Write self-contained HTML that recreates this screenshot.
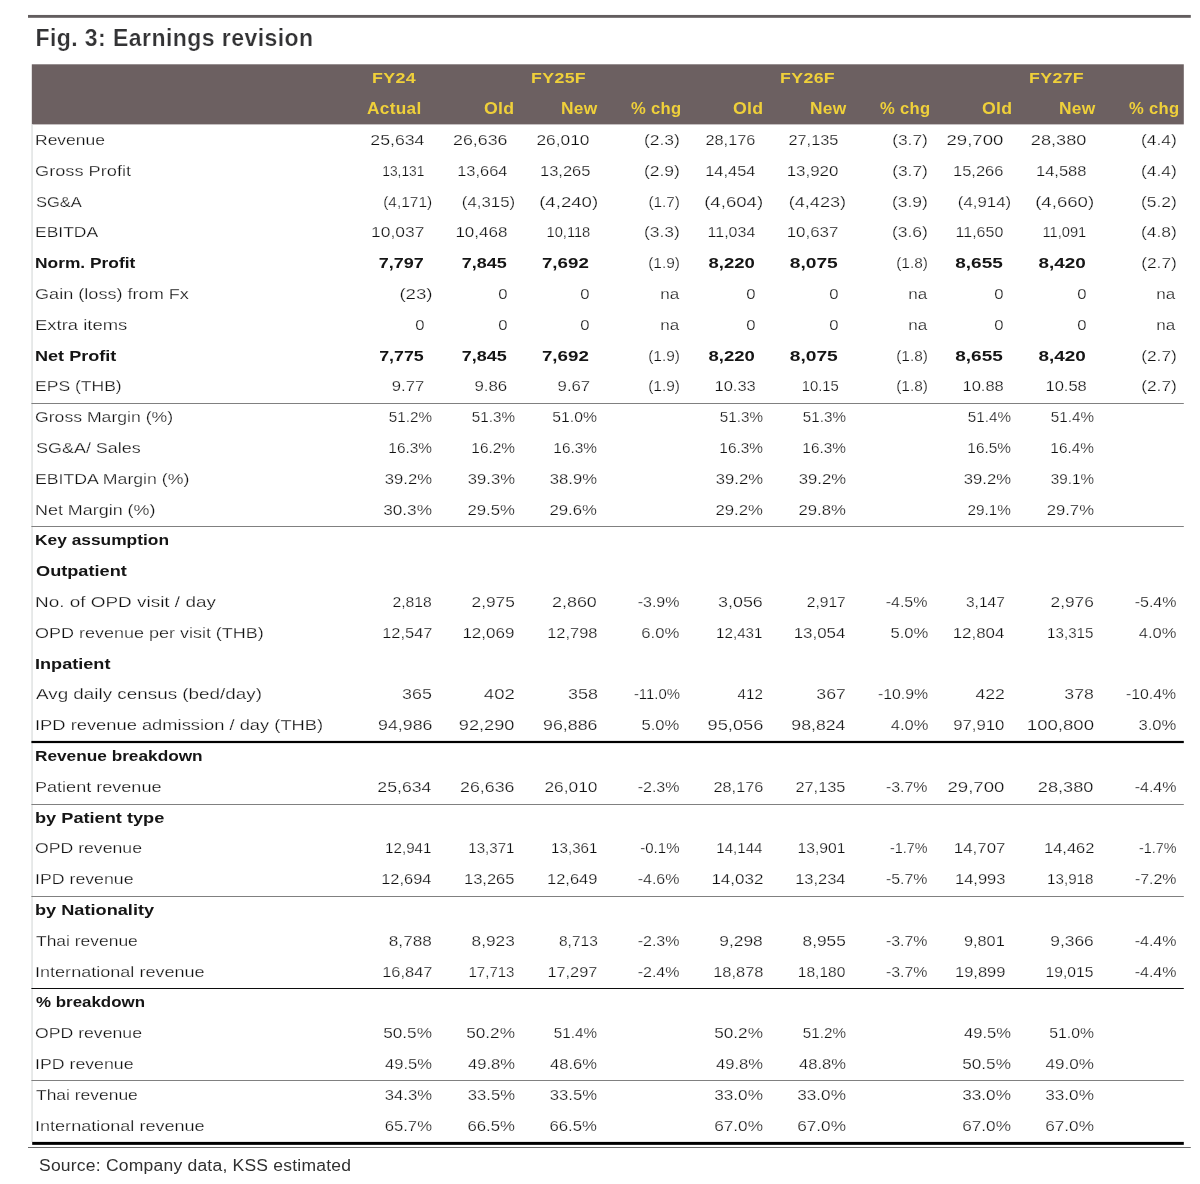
<!DOCTYPE html>
<html lang="en"><head><meta charset="utf-8"><title>Fig. 3: Earnings revision</title>
<style>
html,body{margin:0;padding:0;background:#fff}
body{width:1200px;height:1184px;position:relative;overflow:hidden;font-family:"Liberation Sans",sans-serif;color:#101010}
.t{position:absolute;white-space:nowrap;font-size:15.5px;line-height:20px;-webkit-text-stroke:.25px #fff}
.l{left:34.5px;transform-origin:0 50%}
.b{font-weight:bold;color:#151515;-webkit-text-stroke:0}
.r{text-align:right;transform-origin:100% 50%}
.h{position:absolute;white-space:nowrap;font-weight:bold;color:#efd03a;font-size:16px;line-height:20px;letter-spacing:.3px;transform-origin:0 50%}
</style></head>
<body>
<svg width="1200" height="1184" viewBox="0 0 1200 1184" style="position:absolute;left:0;top:0"><rect x="28" y="14.95" width="1162.8" height="2.85" fill="#625d5e"/><rect x="31.8" y="64.3" width="1152.0" height="60.1" fill="#6c6061"/><rect x="31.3" y="124.4" width="1.5" height="1017.6" fill="#e0e3e3"/><rect x="31.4" y="403" width="1152.4" height="1" fill="#808080"/><rect x="31.4" y="526" width="1152.4" height="1" fill="#808080"/><rect x="31.4" y="804" width="1152.4" height="1" fill="#808080"/><rect x="31.4" y="896" width="1152.4" height="1" fill="#808080"/><rect x="31.4" y="988" width="1152.4" height="1" fill="#0c0c0c"/><rect x="31.4" y="1080" width="1152.4" height="1" fill="#808080"/><rect x="31.4" y="740.9" width="1152.4" height="2.2" fill="#000"/><rect x="32.2" y="1141.9" width="1151.6" height="2.95" fill="#000"/><rect x="28" y="1147" width="1162.8" height="1" fill="#6a6a6a"/></svg>
<div id="title" style="position:absolute;left:35.4px;top:23.6px;font-size:23px;line-height:28px;font-weight:bold;color:#333335;letter-spacing:.44px;-webkit-text-stroke:.22px #fff;white-space:nowrap">Fig. 3: Earnings revision</div>
<span class="h" style="top:67.7px;left:371.8px;transform:scaleX(1.19);font-size:15px">FY24</span>
<span class="h" style="top:98.7px;left:367.0px;transform:scaleX(1.077)">Actual</span>
<span class="h" style="top:67.7px;left:531.3px;transform:scaleX(1.184);font-size:15px">FY25F</span>
<span class="h" style="top:98.7px;left:484.4px;transform:scaleX(1.107)">Old</span>
<span class="h" style="top:98.7px;left:561.4px;transform:scaleX(1.085)">New</span>
<span class="h" style="top:98.7px;left:630.7px;transform:scaleX(1.037)">% chg</span>
<span class="h" style="top:67.7px;left:780.2px;transform:scaleX(1.184);font-size:15px">FY26F</span>
<span class="h" style="top:98.7px;left:733.3px;transform:scaleX(1.107)">Old</span>
<span class="h" style="top:98.7px;left:810.3px;transform:scaleX(1.085)">New</span>
<span class="h" style="top:98.7px;left:879.6px;transform:scaleX(1.037)">% chg</span>
<span class="h" style="top:67.7px;left:1029.1px;transform:scaleX(1.184);font-size:15px">FY27F</span>
<span class="h" style="top:98.7px;left:982.2px;transform:scaleX(1.107)">Old</span>
<span class="h" style="top:98.7px;left:1059.2px;transform:scaleX(1.085)">New</span>
<span class="h" style="top:98.7px;left:1128.5px;transform:scaleX(1.037)">% chg</span>
<span class="t l" style="top:130.0px;left:34.83px;transform:scaleX(1.128)">Revenue</span>
<span class="t r" style="top:130.0px;right:775.61px;transform:scaleX(1.140)">25,634</span>
<span class="t r" style="top:130.0px;right:692.58px;transform:scaleX(1.146)">26,636</span>
<span class="t r" style="top:130.0px;right:610.12px;transform:scaleX(1.118)">26,010</span>
<span class="t r" style="top:130.0px;right:520.00px;transform:scaleX(1.126)">(2.3)</span>
<span class="t r" style="top:130.0px;right:444.39px;transform:scaleX(1.054)">28,176</span>
<span class="t r" style="top:130.0px;right:361.64px;transform:scaleX(1.054)">27,135</span>
<span class="t r" style="top:130.0px;right:271.75px;transform:scaleX(1.120)">(3.7)</span>
<span class="t r" style="top:130.0px;right:196.34px;transform:scaleX(1.200)">29,700</span>
<span class="t r" style="top:130.0px;right:113.60px;transform:scaleX(1.172)">28,380</span>
<span class="t r" style="top:130.0px;right:23.50px;transform:scaleX(1.126)">(4.4)</span>
<span class="t l" style="top:160.8px;left:35.35px;transform:scaleX(1.174)">Gross Profit</span>
<span class="t r" style="top:160.8px;right:775.49px;transform:scaleX(0.889)">13,131</span>
<span class="t r" style="top:160.8px;right:692.89px;transform:scaleX(1.059)">13,664</span>
<span class="t r" style="top:160.8px;right:609.88px;transform:scaleX(1.064)">13,265</span>
<span class="t r" style="top:160.8px;right:520.00px;transform:scaleX(1.126)">(2.9)</span>
<span class="t r" style="top:160.8px;right:444.64px;transform:scaleX(1.059)">14,454</span>
<span class="t r" style="top:160.8px;right:361.88px;transform:scaleX(1.091)">13,920</span>
<span class="t r" style="top:160.8px;right:271.75px;transform:scaleX(1.120)">(3.7)</span>
<span class="t r" style="top:160.8px;right:196.13px;transform:scaleX(1.064)">15,266</span>
<span class="t r" style="top:160.8px;right:113.38px;transform:scaleX(1.064)">14,588</span>
<span class="t r" style="top:160.8px;right:23.50px;transform:scaleX(1.126)">(4.4)</span>
<span class="t l" style="top:191.6px;left:35.68px;transform:scaleX(1.064)">SG&amp;A</span>
<span class="t r" style="top:191.6px;right:767.95px;transform:scaleX(0.996)">(4,171)</span>
<span class="t r" style="top:191.6px;right:685.13px;transform:scaleX(1.084)">(4,315)</span>
<span class="t r" style="top:191.6px;right:602.29px;transform:scaleX(1.200)">(4,240)</span>
<span class="t r" style="top:191.6px;right:520.11px;transform:scaleX(0.988)">(1.7)</span>
<span class="t r" style="top:191.6px;right:436.79px;transform:scaleX(1.200)">(4,604)</span>
<span class="t r" style="top:191.6px;right:354.06px;transform:scaleX(1.169)">(4,423)</span>
<span class="t r" style="top:191.6px;right:271.75px;transform:scaleX(1.126)">(3.9)</span>
<span class="t r" style="top:191.6px;right:188.63px;transform:scaleX(1.084)">(4,914)</span>
<span class="t r" style="top:191.6px;right:105.79px;transform:scaleX(1.200)">(4,660)</span>
<span class="t r" style="top:191.6px;right:23.50px;transform:scaleX(1.126)">(5.2)</span>
<span class="t l" style="top:222.4px;left:34.84px;transform:scaleX(1.127)">EBITDA</span>
<span class="t r" style="top:222.4px;right:775.34px;transform:scaleX(1.125)">10,037</span>
<span class="t r" style="top:222.4px;right:692.61px;transform:scaleX(1.097)">10,468</span>
<span class="t r" style="top:222.4px;right:609.96px;transform:scaleX(0.946)">10,118</span>
<span class="t r" style="top:222.4px;right:520.00px;transform:scaleX(1.126)">(3.3)</span>
<span class="t r" style="top:222.4px;right:444.65px;transform:scaleX(1.030)">11,034</span>
<span class="t r" style="top:222.4px;right:361.61px;transform:scaleX(1.092)">10,637</span>
<span class="t r" style="top:222.4px;right:271.75px;transform:scaleX(1.126)">(3.6)</span>
<span class="t r" style="top:222.4px;right:196.40px;transform:scaleX(1.030)">11,650</span>
<span class="t r" style="top:222.4px;right:113.46px;transform:scaleX(0.946)">11,091</span>
<span class="t r" style="top:222.4px;right:23.50px;transform:scaleX(1.126)">(4.8)</span>
<span class="t l b" style="top:253.2px;left:35.12px;transform:scaleX(1.120)">Norm. Profit</span>
<span class="t r b" style="top:253.2px;right:776.02px;transform:scaleX(1.161)">7,797</span>
<span class="t r b" style="top:253.2px;right:693.55px;transform:scaleX(1.160)">7,845</span>
<span class="t r b" style="top:253.2px;right:610.78px;transform:scaleX(1.207)">7,692</span>
<span class="t r" style="top:253.2px;right:520.10px;transform:scaleX(0.994)">(1.9)</span>
<span class="t r b" style="top:253.2px;right:445.00px;transform:scaleX(1.194)">8,220</span>
<span class="t r b" style="top:253.2px;right:362.52px;transform:scaleX(1.240)">8,075</span>
<span class="t r" style="top:253.2px;right:271.85px;transform:scaleX(0.994)">(1.8)</span>
<span class="t r b" style="top:253.2px;right:197.03px;transform:scaleX(1.226)">8,655</span>
<span class="t r b" style="top:253.2px;right:113.98px;transform:scaleX(1.221)">8,420</span>
<span class="t r" style="top:253.2px;right:23.50px;transform:scaleX(1.120)">(2.7)</span>
<span class="t l" style="top:284.0px;left:35.35px;transform:scaleX(1.168)">Gain (loss) from Fx</span>
<span class="t r" style="top:284.0px;right:767.78px;transform:scaleX(1.203)">(23)</span>
<span class="t r" style="top:284.0px;right:692.88px;transform:scaleX(1.079)">0</span>
<span class="t r" style="top:284.0px;right:610.13px;transform:scaleX(1.079)">0</span>
<span class="t r" style="top:284.0px;right:521.01px;transform:scaleX(1.100)">na</span>
<span class="t r" style="top:284.0px;right:444.63px;transform:scaleX(1.079)">0</span>
<span class="t r" style="top:284.0px;right:361.88px;transform:scaleX(1.079)">0</span>
<span class="t r" style="top:284.0px;right:272.76px;transform:scaleX(1.100)">na</span>
<span class="t r" style="top:284.0px;right:196.38px;transform:scaleX(1.079)">0</span>
<span class="t r" style="top:284.0px;right:113.63px;transform:scaleX(1.079)">0</span>
<span class="t r" style="top:284.0px;right:24.51px;transform:scaleX(1.100)">na</span>
<span class="t l" style="top:314.8px;left:34.76px;transform:scaleX(1.190)">Extra items</span>
<span class="t r" style="top:314.8px;right:775.63px;transform:scaleX(1.079)">0</span>
<span class="t r" style="top:314.8px;right:692.88px;transform:scaleX(1.079)">0</span>
<span class="t r" style="top:314.8px;right:610.13px;transform:scaleX(1.079)">0</span>
<span class="t r" style="top:314.8px;right:521.01px;transform:scaleX(1.100)">na</span>
<span class="t r" style="top:314.8px;right:444.63px;transform:scaleX(1.079)">0</span>
<span class="t r" style="top:314.8px;right:361.88px;transform:scaleX(1.079)">0</span>
<span class="t r" style="top:314.8px;right:272.76px;transform:scaleX(1.100)">na</span>
<span class="t r" style="top:314.8px;right:196.38px;transform:scaleX(1.079)">0</span>
<span class="t r" style="top:314.8px;right:113.63px;transform:scaleX(1.079)">0</span>
<span class="t r" style="top:314.8px;right:24.51px;transform:scaleX(1.100)">na</span>
<span class="t l b" style="top:345.6px;left:35.07px;transform:scaleX(1.166)">Net Profit</span>
<span class="t r b" style="top:345.6px;right:776.31px;transform:scaleX(1.150)">7,775</span>
<span class="t r b" style="top:345.6px;right:693.55px;transform:scaleX(1.160)">7,845</span>
<span class="t r b" style="top:345.6px;right:610.78px;transform:scaleX(1.207)">7,692</span>
<span class="t r" style="top:345.6px;right:520.10px;transform:scaleX(0.994)">(1.9)</span>
<span class="t r b" style="top:345.6px;right:445.00px;transform:scaleX(1.194)">8,220</span>
<span class="t r b" style="top:345.6px;right:362.52px;transform:scaleX(1.240)">8,075</span>
<span class="t r" style="top:345.6px;right:271.85px;transform:scaleX(0.994)">(1.8)</span>
<span class="t r b" style="top:345.6px;right:197.03px;transform:scaleX(1.226)">8,655</span>
<span class="t r b" style="top:345.6px;right:113.98px;transform:scaleX(1.221)">8,420</span>
<span class="t r" style="top:345.6px;right:23.50px;transform:scaleX(1.120)">(2.7)</span>
<span class="t l" style="top:376.4px;left:34.83px;transform:scaleX(1.131)">EPS (THB)</span>
<span class="t r" style="top:376.4px;right:775.38px;transform:scaleX(1.073)">9.77</span>
<span class="t r" style="top:376.4px;right:692.62px;transform:scaleX(1.087)">9.86</span>
<span class="t r" style="top:376.4px;right:609.87px;transform:scaleX(1.080)">9.67</span>
<span class="t r" style="top:376.4px;right:520.10px;transform:scaleX(0.994)">(1.9)</span>
<span class="t r" style="top:376.4px;right:444.38px;transform:scaleX(1.066)">10.33</span>
<span class="t r" style="top:376.4px;right:361.70px;transform:scaleX(0.958)">10.15</span>
<span class="t r" style="top:376.4px;right:271.85px;transform:scaleX(0.994)">(1.8)</span>
<span class="t r" style="top:376.4px;right:196.13px;transform:scaleX(1.066)">10.88</span>
<span class="t r" style="top:376.4px;right:113.38px;transform:scaleX(1.066)">10.58</span>
<span class="t r" style="top:376.4px;right:23.50px;transform:scaleX(1.120)">(2.7)</span>
<span class="t l" style="top:407.2px;left:35.37px;transform:scaleX(1.137)">Gross Margin (%)</span>
<span class="t r" style="top:407.2px;right:768.30px;transform:scaleX(0.981)">51.2%</span>
<span class="t r" style="top:407.2px;right:685.55px;transform:scaleX(0.981)">51.3%</span>
<span class="t r" style="top:407.2px;right:602.78px;transform:scaleX(1.016)">51.0%</span>
<span class="t r" style="top:407.2px;right:437.30px;transform:scaleX(0.981)">51.3%</span>
<span class="t r" style="top:407.2px;right:354.55px;transform:scaleX(0.981)">51.3%</span>
<span class="t r" style="top:407.2px;right:189.05px;transform:scaleX(0.981)">51.4%</span>
<span class="t r" style="top:407.2px;right:106.30px;transform:scaleX(0.981)">51.4%</span>
<span class="t l" style="top:438.0px;left:35.64px;transform:scaleX(1.158)">SG&amp;A/ Sales</span>
<span class="t r" style="top:438.0px;right:768.29px;transform:scaleX(0.992)">16.3%</span>
<span class="t r" style="top:438.0px;right:685.54px;transform:scaleX(0.992)">16.2%</span>
<span class="t r" style="top:438.0px;right:602.79px;transform:scaleX(0.992)">16.3%</span>
<span class="t r" style="top:438.0px;right:437.29px;transform:scaleX(0.992)">16.3%</span>
<span class="t r" style="top:438.0px;right:354.54px;transform:scaleX(0.992)">16.3%</span>
<span class="t r" style="top:438.0px;right:189.04px;transform:scaleX(0.992)">16.5%</span>
<span class="t r" style="top:438.0px;right:106.29px;transform:scaleX(0.992)">16.4%</span>
<span class="t l" style="top:468.8px;left:34.82px;transform:scaleX(1.141)">EBITDA Margin (%)</span>
<span class="t r" style="top:468.8px;right:768.25px;transform:scaleX(1.074)">39.2%</span>
<span class="t r" style="top:468.8px;right:685.50px;transform:scaleX(1.074)">39.3%</span>
<span class="t r" style="top:468.8px;right:602.75px;transform:scaleX(1.074)">38.9%</span>
<span class="t r" style="top:468.8px;right:437.25px;transform:scaleX(1.074)">39.2%</span>
<span class="t r" style="top:468.8px;right:354.50px;transform:scaleX(1.074)">39.2%</span>
<span class="t r" style="top:468.8px;right:189.00px;transform:scaleX(1.074)">39.2%</span>
<span class="t r" style="top:468.8px;right:106.30px;transform:scaleX(0.981)">39.1%</span>
<span class="t l" style="top:499.6px;left:34.80px;transform:scaleX(1.156)">Net Margin (%)</span>
<span class="t r" style="top:499.6px;right:768.24px;transform:scaleX(1.109)">30.3%</span>
<span class="t r" style="top:499.6px;right:685.50px;transform:scaleX(1.080)">29.5%</span>
<span class="t r" style="top:499.6px;right:602.75px;transform:scaleX(1.080)">29.6%</span>
<span class="t r" style="top:499.6px;right:437.25px;transform:scaleX(1.080)">29.2%</span>
<span class="t r" style="top:499.6px;right:354.50px;transform:scaleX(1.080)">29.8%</span>
<span class="t r" style="top:499.6px;right:189.04px;transform:scaleX(0.987)">29.1%</span>
<span class="t r" style="top:499.6px;right:106.25px;transform:scaleX(1.075)">29.7%</span>
<span class="t l b" style="top:530.4px;left:35.12px;transform:scaleX(1.119)">Key assumption</span>
<span class="t l b" style="top:561.2px;left:35.63px;transform:scaleX(1.172)">Outpatient</span>
<span class="t l" style="top:592.0px;left:34.72px;transform:scaleX(1.221)">No. of OPD visit / day</span>
<span class="t r" style="top:592.0px;right:768.11px;transform:scaleX(1.014)">2,818</span>
<span class="t r" style="top:592.0px;right:685.30px;transform:scaleX(1.115)">2,975</span>
<span class="t r" style="top:592.0px;right:602.80px;transform:scaleX(1.153)">2,860</span>
<span class="t r" style="top:592.0px;right:520.42px;transform:scaleX(1.033)">-3.9%</span>
<span class="t r" style="top:592.0px;right:437.03px;transform:scaleX(1.153)">3,056</span>
<span class="t r" style="top:592.0px;right:354.37px;transform:scaleX(1.008)">2,917</span>
<span class="t r" style="top:592.0px;right:272.17px;transform:scaleX(1.033)">-4.5%</span>
<span class="t r" style="top:592.0px;right:195.07px;transform:scaleX(1.001)">3,147</span>
<span class="t r" style="top:592.0px;right:106.05px;transform:scaleX(1.115)">2,976</span>
<span class="t r" style="top:592.0px;right:23.92px;transform:scaleX(1.033)">-5.4%</span>
<span class="t l" style="top:622.8px;left:35.36px;transform:scaleX(1.160)">OPD revenue per visit (THB)</span>
<span class="t r" style="top:622.8px;right:768.08px;transform:scaleX(1.060)">12,547</span>
<span class="t r" style="top:622.8px;right:685.31px;transform:scaleX(1.097)">12,069</span>
<span class="t r" style="top:622.8px;right:602.58px;transform:scaleX(1.060)">12,798</span>
<span class="t r" style="top:622.8px;right:520.40px;transform:scaleX(1.080)">6.0%</span>
<span class="t r" style="top:622.8px;right:437.14px;transform:scaleX(0.977)">12,431</span>
<span class="t r" style="top:622.8px;right:354.58px;transform:scaleX(1.091)">13,054</span>
<span class="t r" style="top:622.8px;right:272.15px;transform:scaleX(1.073)">5.0%</span>
<span class="t r" style="top:622.8px;right:195.28px;transform:scaleX(1.091)">12,804</span>
<span class="t r" style="top:622.8px;right:106.14px;transform:scaleX(0.977)">13,315</span>
<span class="t r" style="top:622.8px;right:23.91px;transform:scaleX(1.065)">4.0%</span>
<span class="t l b" style="top:653.6px;left:35.07px;transform:scaleX(1.168)">Inpatient</span>
<span class="t l" style="top:684.4px;left:36.20px;transform:scaleX(1.216)">Avg daily census (bed/day)</span>
<span class="t r" style="top:684.4px;right:768.03px;transform:scaleX(1.151)">365</span>
<span class="t r" style="top:684.4px;right:685.25px;transform:scaleX(1.200)">402</span>
<span class="t r" style="top:684.4px;right:602.53px;transform:scaleX(1.151)">358</span>
<span class="t r" style="top:684.4px;right:520.46px;transform:scaleX(0.960)">-11.0%</span>
<span class="t r" style="top:684.4px;right:437.13px;transform:scaleX(0.979)">412</span>
<span class="t r" style="top:684.4px;right:354.28px;transform:scaleX(1.142)">367</span>
<span class="t r" style="top:684.4px;right:272.18px;transform:scaleX(1.020)">-10.9%</span>
<span class="t r" style="top:684.4px;right:194.98px;transform:scaleX(1.140)">422</span>
<span class="t r" style="top:684.4px;right:106.03px;transform:scaleX(1.142)">378</span>
<span class="t r" style="top:684.4px;right:23.93px;transform:scaleX(1.020)">-10.4%</span>
<span class="t l" style="top:715.2px;left:34.77px;transform:scaleX(1.182)">IPD revenue admission / day (THB)</span>
<span class="t r" style="top:715.2px;right:768.03px;transform:scaleX(1.146)">94,986</span>
<span class="t r" style="top:715.2px;right:685.55px;transform:scaleX(1.172)">92,290</span>
<span class="t r" style="top:715.2px;right:602.53px;transform:scaleX(1.146)">96,886</span>
<span class="t r" style="top:715.2px;right:520.40px;transform:scaleX(1.073)">5.0%</span>
<span class="t r" style="top:715.2px;right:437.01px;transform:scaleX(1.178)">95,056</span>
<span class="t r" style="top:715.2px;right:354.56px;transform:scaleX(1.140)">98,824</span>
<span class="t r" style="top:715.2px;right:272.16px;transform:scaleX(1.065)">4.0%</span>
<span class="t r" style="top:715.2px;right:195.28px;transform:scaleX(1.081)">97,910</span>
<span class="t r" style="top:715.2px;right:106.29px;transform:scaleX(1.199)">100,800</span>
<span class="t r" style="top:715.2px;right:23.90px;transform:scaleX(1.073)">3.0%</span>
<span class="t l b" style="top:746.0px;left:35.12px;transform:scaleX(1.112)">Revenue breakdown</span>
<span class="t l" style="top:776.8px;left:34.79px;transform:scaleX(1.165)">Patient revenue</span>
<span class="t r" style="top:776.8px;right:768.31px;transform:scaleX(1.140)">25,634</span>
<span class="t r" style="top:776.8px;right:685.28px;transform:scaleX(1.146)">26,636</span>
<span class="t r" style="top:776.8px;right:602.82px;transform:scaleX(1.118)">26,010</span>
<span class="t r" style="top:776.8px;right:520.42px;transform:scaleX(1.033)">-2.3%</span>
<span class="t r" style="top:776.8px;right:437.09px;transform:scaleX(1.054)">28,176</span>
<span class="t r" style="top:776.8px;right:354.34px;transform:scaleX(1.054)">27,135</span>
<span class="t r" style="top:776.8px;right:272.18px;transform:scaleX(1.027)">-3.7%</span>
<span class="t r" style="top:776.8px;right:195.24px;transform:scaleX(1.200)">29,700</span>
<span class="t r" style="top:776.8px;right:106.30px;transform:scaleX(1.172)">28,380</span>
<span class="t r" style="top:776.8px;right:23.92px;transform:scaleX(1.033)">-4.4%</span>
<span class="t l b" style="top:807.6px;left:35.06px;transform:scaleX(1.173)">by Patient type</span>
<span class="t l" style="top:838.4px;left:35.37px;transform:scaleX(1.139)">OPD revenue</span>
<span class="t r" style="top:838.4px;right:768.14px;transform:scaleX(0.977)">12,941</span>
<span class="t r" style="top:838.4px;right:685.39px;transform:scaleX(0.972)">13,371</span>
<span class="t r" style="top:838.4px;right:602.64px;transform:scaleX(0.977)">13,361</span>
<span class="t r" style="top:838.4px;right:520.45px;transform:scaleX(0.969)">-0.1%</span>
<span class="t r" style="top:838.4px;right:437.37px;transform:scaleX(0.972)">14,144</span>
<span class="t r" style="top:838.4px;right:354.37px;transform:scaleX(1.009)">13,901</span>
<span class="t r" style="top:838.4px;right:272.22px;transform:scaleX(0.926)">-1.7%</span>
<span class="t r" style="top:838.4px;right:195.02px;transform:scaleX(1.088)">14,707</span>
<span class="t r" style="top:838.4px;right:106.08px;transform:scaleX(1.064)">14,462</span>
<span class="t r" style="top:838.4px;right:23.97px;transform:scaleX(0.926)">-1.7%</span>
<span class="t l" style="top:869.2px;left:34.81px;transform:scaleX(1.144)">IPD revenue</span>
<span class="t r" style="top:869.2px;right:768.34px;transform:scaleX(1.059)">12,694</span>
<span class="t r" style="top:869.2px;right:685.33px;transform:scaleX(1.064)">13,265</span>
<span class="t r" style="top:869.2px;right:602.58px;transform:scaleX(1.064)">12,649</span>
<span class="t r" style="top:869.2px;right:520.42px;transform:scaleX(1.033)">-4.6%</span>
<span class="t r" style="top:869.2px;right:437.06px;transform:scaleX(1.097)">14,032</span>
<span class="t r" style="top:869.2px;right:354.59px;transform:scaleX(1.059)">13,234</span>
<span class="t r" style="top:869.2px;right:272.18px;transform:scaleX(1.027)">-5.7%</span>
<span class="t r" style="top:869.2px;right:195.03px;transform:scaleX(1.064)">14,993</span>
<span class="t r" style="top:869.2px;right:106.14px;transform:scaleX(0.977)">13,918</span>
<span class="t r" style="top:869.2px;right:23.93px;transform:scaleX(1.027)">-7.2%</span>
<span class="t l b" style="top:900.0px;left:35.06px;transform:scaleX(1.172)">by Nationality</span>
<span class="t l" style="top:930.8px;left:35.93px;transform:scaleX(1.125)">Thai revenue</span>
<span class="t r" style="top:930.8px;right:768.05px;transform:scaleX(1.108)">8,788</span>
<span class="t r" style="top:930.8px;right:685.30px;transform:scaleX(1.113)">8,923</span>
<span class="t r" style="top:930.8px;right:602.62px;transform:scaleX(1.001)">8,713</span>
<span class="t r" style="top:930.8px;right:520.42px;transform:scaleX(1.033)">-2.3%</span>
<span class="t r" style="top:930.8px;right:437.05px;transform:scaleX(1.121)">9,298</span>
<span class="t r" style="top:930.8px;right:354.30px;transform:scaleX(1.113)">8,955</span>
<span class="t r" style="top:930.8px;right:272.18px;transform:scaleX(1.027)">-3.7%</span>
<span class="t r" style="top:930.8px;right:195.04px;transform:scaleX(1.054)">9,801</span>
<span class="t r" style="top:930.8px;right:106.05px;transform:scaleX(1.121)">9,366</span>
<span class="t r" style="top:930.8px;right:23.92px;transform:scaleX(1.033)">-4.4%</span>
<span class="t l" style="top:961.6px;left:34.79px;transform:scaleX(1.165)">International revenue</span>
<span class="t r" style="top:961.6px;right:768.08px;transform:scaleX(1.060)">16,847</span>
<span class="t r" style="top:961.6px;right:685.39px;transform:scaleX(0.968)">17,713</span>
<span class="t r" style="top:961.6px;right:602.59px;transform:scaleX(1.055)">17,297</span>
<span class="t r" style="top:961.6px;right:520.42px;transform:scaleX(1.033)">-2.4%</span>
<span class="t r" style="top:961.6px;right:437.08px;transform:scaleX(1.060)">18,878</span>
<span class="t r" style="top:961.6px;right:354.61px;transform:scaleX(1.004)">18,180</span>
<span class="t r" style="top:961.6px;right:272.18px;transform:scaleX(1.027)">-3.7%</span>
<span class="t r" style="top:961.6px;right:195.03px;transform:scaleX(1.064)">19,899</span>
<span class="t r" style="top:961.6px;right:106.12px;transform:scaleX(1.009)">19,015</span>
<span class="t r" style="top:961.6px;right:23.92px;transform:scaleX(1.033)">-4.4%</span>
<span class="t l b" style="top:992.4px;left:35.94px;transform:scaleX(1.091)">% breakdown</span>
<span class="t l" style="top:1023.2px;left:35.37px;transform:scaleX(1.139)">OPD revenue</span>
<span class="t r" style="top:1023.2px;right:768.24px;transform:scaleX(1.109)">50.5%</span>
<span class="t r" style="top:1023.2px;right:685.49px;transform:scaleX(1.109)">50.2%</span>
<span class="t r" style="top:1023.2px;right:602.80px;transform:scaleX(0.981)">51.4%</span>
<span class="t r" style="top:1023.2px;right:437.24px;transform:scaleX(1.109)">50.2%</span>
<span class="t r" style="top:1023.2px;right:354.55px;transform:scaleX(0.981)">51.2%</span>
<span class="t r" style="top:1023.2px;right:189.01px;transform:scaleX(1.068)">49.5%</span>
<span class="t r" style="top:1023.2px;right:106.28px;transform:scaleX(1.016)">51.0%</span>
<span class="t l" style="top:1054.0px;left:34.81px;transform:scaleX(1.144)">IPD revenue</span>
<span class="t r" style="top:1054.0px;right:768.26px;transform:scaleX(1.068)">49.5%</span>
<span class="t r" style="top:1054.0px;right:685.51px;transform:scaleX(1.068)">49.8%</span>
<span class="t r" style="top:1054.0px;right:602.76px;transform:scaleX(1.068)">48.6%</span>
<span class="t r" style="top:1054.0px;right:437.26px;transform:scaleX(1.068)">49.8%</span>
<span class="t r" style="top:1054.0px;right:354.51px;transform:scaleX(1.068)">48.8%</span>
<span class="t r" style="top:1054.0px;right:188.99px;transform:scaleX(1.109)">50.5%</span>
<span class="t r" style="top:1054.0px;right:106.24px;transform:scaleX(1.103)">49.0%</span>
<span class="t l" style="top:1084.8px;left:35.93px;transform:scaleX(1.125)">Thai revenue</span>
<span class="t r" style="top:1084.8px;right:768.25px;transform:scaleX(1.074)">34.3%</span>
<span class="t r" style="top:1084.8px;right:685.50px;transform:scaleX(1.074)">33.5%</span>
<span class="t r" style="top:1084.8px;right:602.75px;transform:scaleX(1.074)">33.5%</span>
<span class="t r" style="top:1084.8px;right:437.24px;transform:scaleX(1.109)">33.0%</span>
<span class="t r" style="top:1084.8px;right:354.49px;transform:scaleX(1.109)">33.0%</span>
<span class="t r" style="top:1084.8px;right:188.99px;transform:scaleX(1.109)">33.0%</span>
<span class="t r" style="top:1084.8px;right:106.24px;transform:scaleX(1.109)">33.0%</span>
<span class="t l" style="top:1115.6px;left:34.79px;transform:scaleX(1.165)">International revenue</span>
<span class="t r" style="top:1115.6px;right:768.25px;transform:scaleX(1.075)">65.7%</span>
<span class="t r" style="top:1115.6px;right:685.50px;transform:scaleX(1.080)">66.5%</span>
<span class="t r" style="top:1115.6px;right:602.75px;transform:scaleX(1.080)">66.5%</span>
<span class="t r" style="top:1115.6px;right:437.24px;transform:scaleX(1.110)">67.0%</span>
<span class="t r" style="top:1115.6px;right:354.49px;transform:scaleX(1.110)">67.0%</span>
<span class="t r" style="top:1115.6px;right:188.99px;transform:scaleX(1.110)">67.0%</span>
<span class="t r" style="top:1115.6px;right:106.24px;transform:scaleX(1.110)">67.0%</span>
<div id="src" style="position:absolute;left:39px;top:1155.7px;font-size:16px;line-height:20px;color:#303030;letter-spacing:.2px;white-space:nowrap;transform-origin:0 50%;transform:scaleX(1.094)">Source: Company data, KSS estimated</div>
</body></html>
